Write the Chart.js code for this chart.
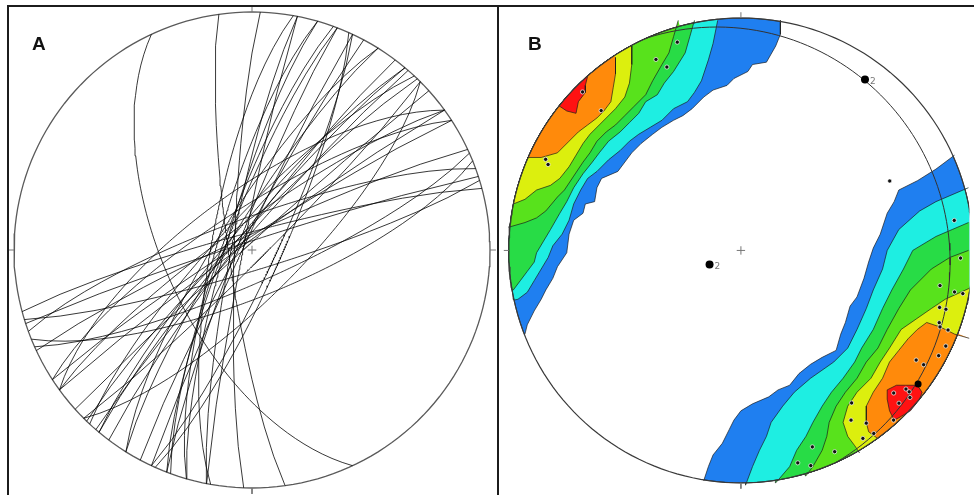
<!DOCTYPE html>
<html>
<head>
<meta charset="utf-8">
<script src="https://cdn.jsdelivr.net/npm/chart.js@4.4.0/dist/chart.umd.min.js"></script>
<style>
  html, body { margin: 0; padding: 0; background: #fff; }
  #wrap { position: relative; width: 974px; height: 495px; overflow: hidden; background: #fff; }
  canvas { position: absolute; top: 0; }
  #netA { left: 0; }
  #netB { left: 499px; }
  .rule { position: absolute; background: #1c1c1c; }
  .tag { position: absolute; font: bold 19px "Liberation Sans", Arial, sans-serif; line-height: 19px; color: #111; }
</style>
</head>
<body>
<div id="wrap">
  <canvas id="netA" width="497" height="495"></canvas>
  <canvas id="netB" width="475" height="495"></canvas>
  <div class="rule" style="left:7px;top:5px;width:967px;height:2px"></div>
  <div class="rule" style="left:7px;top:5px;width:2px;height:490px"></div>
  <div class="rule" style="left:497px;top:5px;width:2px;height:490px"></div>
  <div class="tag" style="left:32px;top:34px">A</div>
  <div class="tag" style="left:528px;top:34px">B</div>
</div>
<script>
// poles to the measured planes (trend / plunge, degrees), lower hemisphere
const poleTrend  = [315, 315, 336, 338, 343, 295, 294, 65, 82, 92, 100, 101, 101, 106, 106, 110, 111, 111, 115, 118,
                    122, 122, 127, 133, 130, 130, 131, 134, 138, 144, 147, 144, 144, 147, 160, 155, 165, 162];
const polePlunge = [4, 16, 11, 16, 7, 8, 10, 30, 8, 6, 14, 7, 3, 12, 9, 10, 9, 5, 3, 4,
                    12, 8, 5, 11, 8, 6, 4, 6, 2, 20, 14, 9, 3, 4, 11, 5, 6, 3];

// big symbols in B (first one is the pole of the drawn great circle)
const markTrend  = [246, 36, 127];
const markPlunge = [78, 10, 5];
const markLabel  = ['2', '2', ''];

// density bands, low to high
const bandColors = ['#1f7ff0', '#1eeee2', '#28dc46', '#58e21c', '#dcef0e', '#ff8a0b', '#ff1212'];

// contour lines, net coordinates x100 (east, north), NW maximum
const nwBlue = [[17,99],[17,93],[15,88],[11,81],[5,80],[3,77],[-3,74],[-6,71],[-12,69],[-16,66],[-21,61],[-25,58],
  [-29,56],[-34,53],[-38,50],[-43,46],[-47,42],[-53,34],[-60,31],[-62,27],[-63,21],[-67,20],[-68,16],[-72,13],
  [-74,7],[-75,-1],[-79,-7],[-81,-12],[-84,-17],[-86,-21],[-89,-26],[-92,-32],[-93,-36]];
const nwCyan = [[-10,99],[-11,94],[-12,89],[-14,82],[-17,73],[-20,68],[-23,64],[-29,61],[-34,56],[-39,53],[-44,50],
  [-48,47],[-52,43],[-57,39],[-62,34],[-66,31],[-69,26],[-72,20],[-74,13],[-77,7],[-81,2],[-83,-3],[-86,-8],
  [-89,-13],[-92,-18],[-96,-21]];
const nwGreen = [[-20,99],[-22,92],[-24,85],[-29,77],[-33,72],[-36,67],[-41,64],[-44,59],[-48,55],[-52,51],[-57,47],
  [-61,42],[-64,38],[-68,33],[-72,27],[-75,21],[-78,16],[-82,9],[-85,4],[-88,-1],[-89,-5],[-92,-9],[-95,-13],[-98,-17]];
const nwLime = [[-27,99],[-29,92],[-31,85],[-34,80],[-38,73],[-41,67],[-46,62],[-50,58],[-54,54],[-58,51],[-62,47],
  [-65,42],[-68,38],[-72,32],[-76,26],[-79,23],[-84,17],[-88,14],[-93,12],[-100,10]];
const nwYellow = [[-47,88],[-47,80],[-48,72],[-50,66],[-54,61],[-58,57],[-61,54],[-65,50],[-68,46],[-71,41],[-74,36],
  [-78,31],[-82,28],[-88,26],[-93,22],[-98,20]];
const nwOrange = [[-54,83],[-54,76],[-55,70],[-56,64],[-59,60],[-62,57],[-66,54],[-70,51],[-74,47],[-79,42],[-86,40],[-92,40]];
const nwRed = [[-66,75],[-67,71],[-67,68],[-70,64],[-71,59],[-75,60],[-78,62]];

// SE maximum
const seBlue = [[92,41],[84,35],[76,30],[68,26],[66,21],[63,16],[60,7],[57,1],[55,-5],[53,-12],[50,-20],[47,-24],
  [45,-31],[43,-36],[41,-43],[35,-46],[30,-49],[25,-53],[21,-58],[16,-60],[12,-63],[5,-66],[0,-69],[-3,-73],
  [-5,-77],[-8,-83],[-12,-88],[-14,-93],[-16,-99]];
const seCyan = [[98,27],[84,21],[77,17],[68,9],[63,0],[61,-8],[57,-17],[54,-25],[50,-34],[46,-42],[40,-48],[30,-55],
  [23,-61],[18,-67],[13,-74],[11,-80],[8,-86],[5,-93],[2,-101]];
const seGreen = [[98,12],[91,9],[84,6],[74,0],[70,-8],[65,-17],[61,-25],[57,-34],[52,-42],[49,-48],[44,-55],[39,-61],
  [35,-67],[31,-74],[28,-80],[24,-86],[21,-93],[15,-100]];
const seLime = [[98,0],[90,-3],[82,-8],[73,-17],[68,-25],[63,-34],[59,-42],[54,-48],[50,-55],[45,-61],[41,-67],
  [38,-74],[37,-80],[35,-86],[31,-93],[28,-97]];
const seYellow = [[99,-16],[88,-21],[82,-25],[69,-34],[64,-42],[60,-48],[56,-55],[50,-61],[46,-67],[44,-74],[46,-80],
  [49,-84],[51,-87]];
const seOrange = [[99,-38],[92,-36],[86,-33],[80,-31],[76,-34],[72,-38],[68,-43],[64,-48],[61,-55],[57,-61],[54,-67],
  [54,-74],[55,-78],[59,-81]];
const seRed = [[63,-60],[67,-58],[71,-58],[76,-58],[78,-61],[77,-64],[73,-69],[68,-72],[66,-73],[64,-69],[63,-64]];

const rad = Math.PI / 180;

// Schmidt (equal-area) projection of a line
function project(trend, plunge) {
  const r = Math.SQRT2 * Math.sin((90 - plunge) / 2 * rad);
  return { x: r * Math.sin(trend * rad), y: r * Math.cos(trend * rad) };
}

function greatCircle(dipDir, dip) {
  const pts = [];
  for (let b = -90; b <= 90; b += 2) {
    const p = Math.atan2(Math.sin(dip * rad) * Math.cos(b * rad), Math.cos(dip * rad)) / rad;
    pts.push(project(dipDir + b, p));
  }
  return pts;
}

function primitive() {
  const pts = [];
  for (let a = 0; a <= 360; a += 2) pts.push({ x: Math.cos(a * rad), y: Math.sin(a * rad) });
  return pts;
}

// contour line closed back along the primitive
function bandShape(edge) {
  const pts = edge.map(([x, y]) => ({ x: x / 100, y: y / 100 }));
  const first = pts[0], last = pts[pts.length - 1];
  const a0 = Math.atan2(first.y, first.x), a1 = Math.atan2(last.y, last.x);
  let d = a0 - a1;
  while (d > Math.PI) d -= 2 * Math.PI;
  while (d < -Math.PI) d += 2 * Math.PI;
  const n = Math.ceil(Math.abs(d) / rad);
  for (let i = 0; i <= n; i++) {
    const a = a1 + d * i / n;
    pts.push({ x: Math.cos(a), y: Math.sin(a) });
  }
  return pts;
}

function closedShape(edge) {
  const pts = edge.map(([x, y]) => ({ x: x / 100, y: y / 100 }));
  pts.push(pts[0]);
  return pts;
}

function lineSet(data, color, width) {
  return { data, showLine: true, fill: false, borderColor: color, borderWidth: width, pointRadius: 0 };
}

function shapeSet(data, color) {
  return { data, showLine: true, fill: 'shape', backgroundColor: color,
           borderColor: 'rgba(25,25,25,0.85)', borderWidth: 0.8, pointRadius: 0 };
}

function netMarks(color) {
  const t = 0.025, c = 0.018;
  return [
    lineSet([{ x: -c, y: 0 }, { x: c, y: 0 }], color, 1),
    lineSet([{ x: 0, y: -c }, { x: 0, y: c }], color, 1),
    lineSet([{ x: 0, y: 1 }, { x: 0, y: 1 + t }], color, 1),
    lineSet([{ x: 0, y: -1 }, { x: 0, y: -1 - t }], color, 1),
    lineSet([{ x: 1, y: 0 }, { x: 1 + t, y: 0 }], color, 1),
    lineSet([{ x: -1, y: 0 }, { x: -1 - t, y: 0 }], color, 1)
  ];
}

// cx, cy = net centre in canvas pixels, R = net radius in pixels
function makeNet(id, cx, cy, R, layers, plugins) {
  const canvas = document.getElementById(id);
  const w = canvas.width, h = canvas.height;
  return new Chart(canvas, {
    type: 'scatter',
    data: { datasets: layers.slice().reverse() },   // first layer ends up at the bottom
    options: {
      responsive: false,
      animation: false,
      events: [],
      devicePixelRatio: 1,
      layout: { padding: 0 },
      scales: {
        x: { type: 'linear', display: false, bounds: 'data', min: -cx / R, max: (w - cx) / R },
        y: { type: 'linear', display: false, bounds: 'data', min: -(h - cy) / R, max: cy / R }
      },
      plugins: { legend: { display: false }, tooltip: { enabled: false } },
      elements: { line: { tension: 0 } }
    },
    plugins: plugins || []
  });
}

// ====== A : great circles ======
const layersA = [lineSet(primitive(), '#5a5a5a', 1.3)];
poleTrend.forEach((t, i) => {
  layersA.push(lineSet(greatCircle(t + 180, 90 - polePlunge[i]), 'rgba(0,0,0,0.78)', 1));
});
layersA.push(...netMarks('#777'));
makeNet('netA', 252, 250, 238, layersA);

// ====== B : contoured poles ======
const nwEdges = [nwBlue, nwCyan, nwGreen, nwLime, nwYellow, nwOrange, nwRed];
const seEdges = [seBlue, seCyan, seGreen, seLime, seYellow, seOrange];
const layersB = [];
bandColors.forEach((col, k) => {
  layersB.push(shapeSet(bandShape(nwEdges[k]), col));
  layersB.push(shapeSet(k < seEdges.length ? bandShape(seEdges[k]) : closedShape(seRed), col));
});
layersB.push(lineSet(primitive(), '#3a3a3a', 1.2));
layersB.push(lineSet(greatCircle(markTrend[0] + 180, 90 - markPlunge[0]), '#333', 1));
layersB.push(...netMarks('#777'));
layersB.push({
  data: poleTrend.map((t, i) => project(t, polePlunge[i])),
  showLine: false, pointRadius: 2.1, pointBackgroundColor: '#111',
  pointBorderColor: 'rgba(255,255,255,0.85)', pointBorderWidth: 0.8
});
layersB.push({
  data: markTrend.map((t, i) => project(t, markPlunge[i])),
  showLine: false, pointRadius: [4, 4, 3.5], pointBackgroundColor: '#000', pointBorderWidth: 0
});

const markText = {
  id: 'markText',
  afterDatasetsDraw(chart) {
    const { ctx, scales: { x, y } } = chart;
    ctx.save();
    ctx.font = '9px "DejaVu Sans", sans-serif';
    ctx.fillStyle = '#777';
    ctx.textBaseline = 'middle';
    markTrend.forEach((t, i) => {
      if (!markLabel[i]) return;
      const p = project(t, markPlunge[i]);
      ctx.fillText(markLabel[i], x.getPixelForValue(p.x) + 5, y.getPixelForValue(p.y) + 2);
    });
    ctx.restore();
  }
};
makeNet('netB', 242, 250.5, 237, layersB, [markText]);
</script>
</body>
</html>
